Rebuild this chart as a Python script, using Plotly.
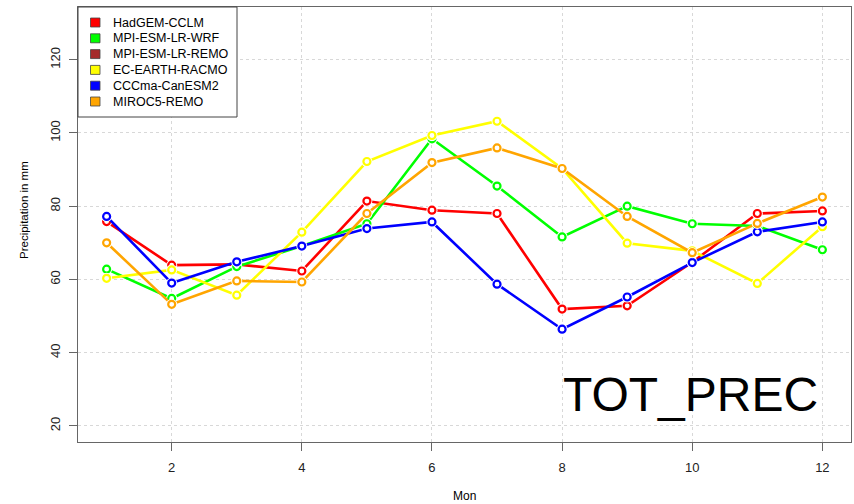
import plotly.graph_objects as go

months = [1, 2, 3, 4, 5, 6, 7, 8, 9, 10, 11, 12]
series_names = ["HadGEM-CCLM", "MPI-ESM-LR-WRF", "MPI-ESM-LR-REMO",
                "EC-EARTH-RACMO", "CCCma-CanESM2", "MIROC5-REMO"]
series_colors = ["#FF0000", "#00FF00", "#A52A2A", "#FFFF00", "#0000FF", "#FFA500"]

hadgem_cclm = [75.8, 63.9, 64.1, 62.3, 81.4, 78.9, 78.0, 51.9, 52.8, 64.7, 78.0, 78.7]
mpi_wrf = [62.8, 54.8, 63.5, 69.1, 75.2, 98.4, 85.5, 71.6, 80.0, 75.2, 74.6, 68.1]
mpi_remo = [None] * 12
ec_racmo = [60.3, 62.6, 55.7, 72.9, 92.2, 99.3, 103.2, 90.3, 69.9, 67.8, 58.9, 74.4]
cccma_canesm2 = [77.2, 59.0, 64.8, 69.1, 73.9, 75.7, 58.7, 46.4, 55.2, 64.6, 73.0, 75.7]
miroc5_remo = [70.0, 53.2, 59.6, 59.3, 78.0, 91.9, 95.9, 90.3, 77.2, 67.3, 75.3, 82.5]

series_values = [hadgem_cclm, mpi_wrf, mpi_remo, ec_racmo, cccma_canesm2, miroc5_remo]

x_ticks = [2, 4, 6, 8, 10, 12]
y_ticks = [20, 40, 60, 80, 100, 120]

FONT = "Liberation Sans, Arial, Helvetica, sans-serif"

fig = go.Figure()
for name, color, vals in zip(series_names, series_colors, series_values):
    fig.add_trace(go.Scatter(x=months, y=vals, mode="lines", name=name,
                             line=dict(color=color, width=2.6),
                             showlegend=False, hoverinfo="skip"))
    fig.add_trace(go.Scatter(x=months, y=vals, mode="markers",
                             marker=dict(symbol="circle", size=11, color="white",
                                         line=dict(width=0)),
                             showlegend=False, hoverinfo="skip"))
    fig.add_trace(go.Scatter(x=months, y=vals, mode="markers", name=name,
                             marker=dict(symbol="circle", size=7, color="white",
                                         line=dict(color=color, width=2.2)),
                             showlegend=False))

# Manual legend (R-style box)
L, T = 78, 7
PW, PH = 773, 435
def px(xp):
    return (xp - L) / PW
def py(yp):
    return 1 - (yp - T) / PH

shapes = [dict(type="rect", xref="paper", yref="paper",
               x0=px(78), x1=px(237), y0=py(117), y1=py(7),
               fillcolor="white", line=dict(color="#444444", width=1), layer="above")]
annotations = []
for i, (name, color) in enumerate(zip(series_names, series_colors)):
    yc = 22.5 + i * 15.8
    shapes.append(dict(type="rect", xref="paper", yref="paper",
                       x0=px(90.5), x1=px(100), y0=py(yc + 4.5), y1=py(yc - 4.5),
                       fillcolor=color, line=dict(color="#444444", width=0.8), layer="above"))
    annotations.append(dict(text=name, xref="paper", yref="paper",
                            x=px(111), y=py(yc), xanchor="left", yanchor="middle",
                            showarrow=False, font=dict(family=FONT, size=12.5, color="#000000")))

annotations.append(dict(text="TOT_PREC", xref="paper", yref="paper",
                        x=px(690), y=py(394), xanchor="center", yanchor="middle",
                        showarrow=False, font=dict(family=FONT, size=48, color="#000000")))
annotations.append(dict(text="Mon", xref="paper", yref="paper",
                        x=px(464), y=py(496), xanchor="center", yanchor="middle",
                        showarrow=False, font=dict(family=FONT, size=12, color="#000000")))
annotations.append(dict(text="Precipitation in mm", xref="paper", yref="paper",
                        x=px(24), y=py(210), xanchor="center", yanchor="middle",
                        textangle=-90,
                        showarrow=False, font=dict(family=FONT, size=11.5, color="#000000")))

fig.update_layout(
    width=854, height=504,
    margin=dict(l=78, r=3, t=7, b=62),
    paper_bgcolor="white", plot_bgcolor="white",
    font=dict(family=FONT, size=13, color="#000000"),
    shapes=shapes, annotations=annotations,
    showlegend=False,
)
fig.update_xaxes(range=[0.56, 12.44], tickvals=x_ticks, ticktext=[str(v) for v in x_ticks],
                 ticks="outside", ticklen=8, tickcolor="#666666", tickwidth=1,
                 showline=True, linecolor="#666666", linewidth=1, mirror=True,
                 showgrid=True, gridcolor="#d8d8d8", griddash="dot", gridwidth=1,
                 zeroline=False, ticklabelstandoff=5, tickfont=dict(size=13, family=FONT, color="#222222"))
fig.update_yaxes(range=[15.6, 134.4], tickvals=y_ticks, ticktext=[str(v) for v in y_ticks],
                 ticks="outside", ticklen=8, tickcolor="#666666", tickwidth=1,
                 showline=True, linecolor="#666666", linewidth=1, mirror=True,
                 showgrid=True, gridcolor="#d8d8d8", griddash="dot", gridwidth=1,
                 zeroline=False, tickangle=-90, ticklabelstandoff=4,
                 tickfont=dict(size=13, family=FONT, color="#222222"))

fig.write_html("out.html")
